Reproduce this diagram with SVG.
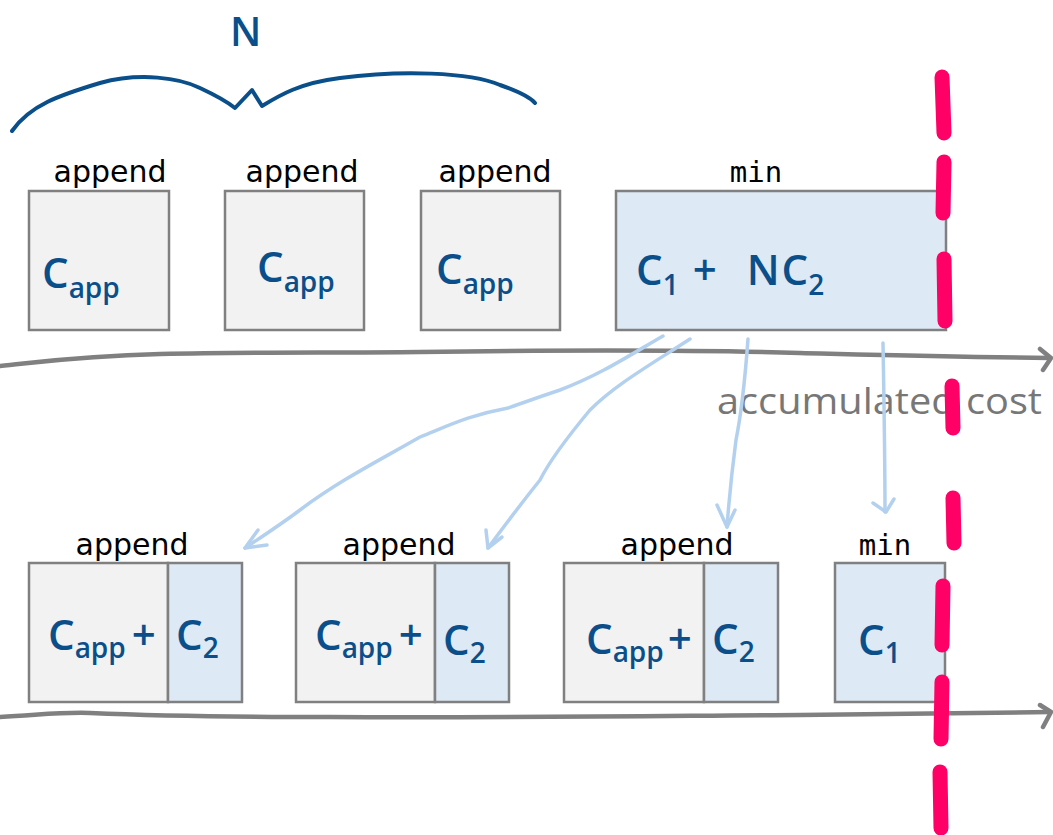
<svg xmlns="http://www.w3.org/2000/svg" width="1053" height="835" viewBox="0 0 1053 835">
<defs>
<style>
.box{fill:#f2f2f2;stroke:#808080;stroke-width:2.5}
.bbox{fill:#dde9f5;stroke:#808080;stroke-width:2.5}
.lbl{font-family:"DejaVu Sans","Noto Sans",sans-serif;font-size:30px;fill:#000;text-anchor:middle}
.mono{font-family:"DejaVu Sans Mono",monospace;font-size:29px;fill:#000;text-anchor:middle}
.hw{font-family:"Open Sans","Noto Sans",sans-serif;fill:#0b4f8a;font-size:42px;font-weight:600}
.sub{font-size:28px}
.axis{fill:none;stroke:#808080;stroke-width:4.5;stroke-linecap:round;stroke-linejoin:round}
.arr{fill:none;stroke:#b3d1ee;stroke-width:3.5;stroke-linecap:round;stroke-linejoin:round}
.red{fill:none;stroke:#ff0066;stroke-width:15;stroke-linecap:round}
.brace{fill:none;stroke:#0b4f8a;stroke-width:4;stroke-linecap:round;stroke-linejoin:round}
</style>
</defs>
<rect width="1053" height="835" fill="#fff"/>

<g id="brace">
<path class="brace" d="M12,131 C30,105 60,95 100,83 C140,72 180,78 200,88 C215,95 225,100 235,108 L252,90 L262,106 C280,95 300,83 340,78 C400,70 470,72 500,85 C520,92 530,97 535,103"/>
<text x="230" y="46" font-family="'Open Sans','Noto Sans',sans-serif" font-size="40" font-weight="600" fill="#0b4f8a">N</text>
</g>

<g id="axes">
<path class="axis" d="M0,366 C40,362 80,356 160,354 C260,352 330,353 420,352 C560,350 700,350 800,353 C880,355 950,357 1050,358"/>
<path class="axis" d="M1040,349 L1051,358 L1043,370"/>
<path class="axis" d="M0,717 C40,715 60,712 90,713 C160,716 250,717 330,717 C500,718 650,716 800,715 C900,714 980,713 1050,712"/>
<path class="axis" d="M1040,705 L1051,712 L1043,727"/>
<text x="717" y="414" font-family="'Open Sans','Noto Sans',sans-serif" font-size="36" fill="#777" textLength="325" lengthAdjust="spacingAndGlyphs">accumulated cost</text>
</g>

<g id="top-append-1">
<text class="lbl" x="110" y="182">append</text>
<rect class="box" x="29" y="191" width="140" height="139"/>
<text class="hw" x="42" y="288">C<tspan class="sub" dy="10">app</tspan></text>
</g>
<g id="top-append-2">
<text class="lbl" x="302" y="182">append</text>
<rect class="box" x="225" y="191" width="139" height="139"/>
<text class="hw" x="257" y="282">C<tspan class="sub" dy="10">app</tspan></text>
</g>
<g id="top-append-3">
<text class="lbl" x="495" y="182">append</text>
<rect class="box" x="421" y="191" width="139" height="139"/>
<text class="hw" x="436" y="284">C<tspan class="sub" dy="10">app</tspan></text>
</g>
<g id="top-min">
<text class="mono" x="756" y="182">min</text>
<rect class="bbox" x="616" y="191" width="330" height="139"/>
<text class="hw" x="636" y="285">C<tspan class="sub" dy="10">1</tspan><tspan dy="-10" dx="14">+</tspan><tspan dx="30">N</tspan><tspan dx="2">C</tspan><tspan class="sub" dy="10">2</tspan></text>
</g>

<g id="bottom-append-1">
<text class="lbl" x="132" y="555">append</text>
<rect class="box" x="29" y="563" width="139" height="139"/>
<rect class="bbox" x="168" y="563" width="74" height="139"/>
<text class="hw" x="48" y="650">C<tspan class="sub" dy="8">app</tspan><tspan dy="-8" dx="6">+</tspan></text>
<text class="hw" x="176" y="650">C<tspan class="sub" dy="8">2</tspan></text>
</g>
<g id="bottom-append-2">
<text class="lbl" x="399" y="555">append</text>
<rect class="box" x="296" y="563" width="139" height="139"/>
<rect class="bbox" x="435" y="563" width="74" height="139"/>
<text class="hw" x="315" y="650">C<tspan class="sub" dy="8">app</tspan><tspan dy="-8" dx="6">+</tspan></text>
<text class="hw" x="443" y="655">C<tspan class="sub" dy="8">2</tspan></text>
</g>
<g id="bottom-append-3">
<text class="lbl" x="677" y="555">append</text>
<rect class="box" x="564" y="563" width="140" height="139"/>
<rect class="bbox" x="704" y="563" width="74" height="139"/>
<text class="hw" x="586" y="654">C<tspan class="sub" dy="8">app</tspan><tspan dy="-8" dx="4">+</tspan></text>
<text class="hw" x="712" y="654">C<tspan class="sub" dy="8">2</tspan></text>
</g>
<g id="bottom-min">
<text class="mono" x="885" y="555">min</text>
<rect class="bbox" x="835" y="563" width="110" height="139"/>
<text class="hw" x="858" y="655">C<tspan class="sub" dy="8">1</tspan></text>
</g>

<g id="connectors">
<path class="arr" d="M663,336 C630,355 600,375 560,390 C530,400 520,404 508,408 C470,415 450,425 420,437 C380,460 340,480 300,510 C280,525 260,538 245,548"/>
<path class="arr" d="M258,530 L245,548 L267,545"/>
<path class="arr" d="M690,339 C650,365 615,385 590,410 C565,440 550,460 540,480 C520,505 505,525 488,548"/>
<path class="arr" d="M486,530 L488,548 L502,537"/>
<path class="arr" d="M748,339 C745,380 740,420 736,440 C732,470 729,500 727,527"/>
<path class="arr" d="M717,505 L727,527 L735,510"/>
<path class="arr" d="M883,343 C884,400 885,460 885,512"/>
<path class="arr" d="M873,503 L886,512 L894,499"/>
</g>

<g id="deadline">
<path class="red" d="M942,77 L944,133"/>
<path class="red" d="M944,162 L943,213"/>
<path class="red" d="M944,259 L945,321"/>
<path class="red" d="M952,386 L953,428"/>
<path class="red" d="M953,498 L954,543"/>
<path class="red" d="M943,586 L942,645"/>
<path class="red" d="M942,682 L941,739"/>
<path class="red" d="M940,772 L941,828"/>
</g>
</svg>
